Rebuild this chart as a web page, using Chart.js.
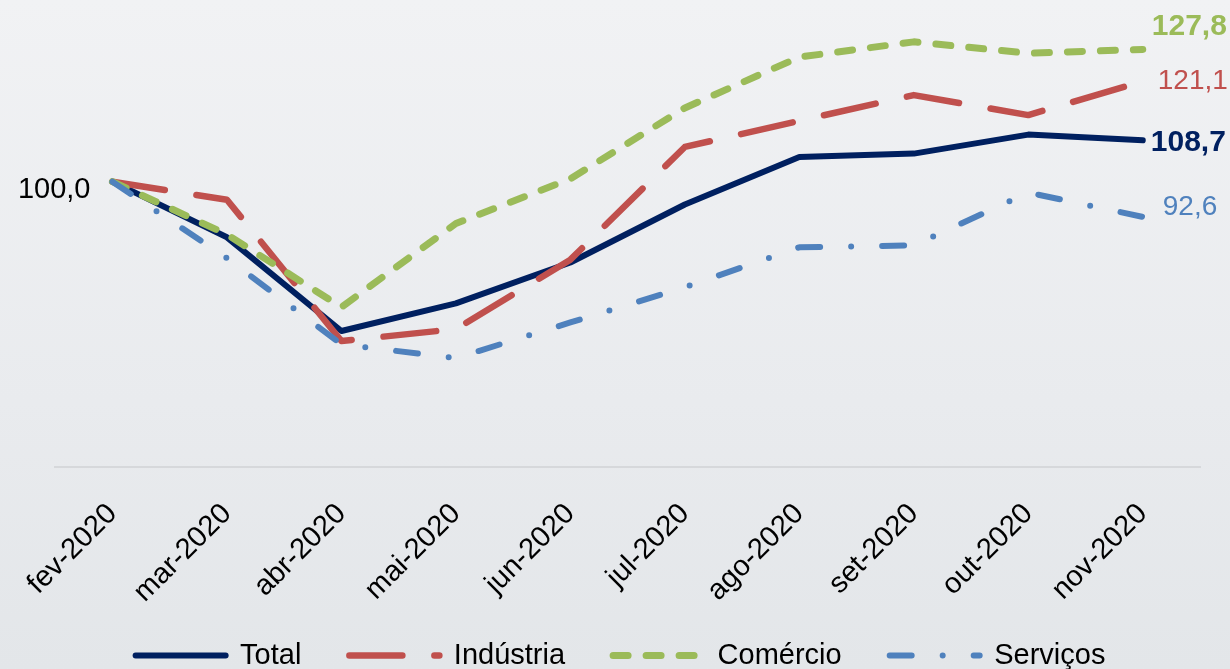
<!DOCTYPE html>
<html>
<head>
<meta charset="utf-8">
<script src="https://cdn.jsdelivr.net/npm/chart.js@4.4.0/dist/chart.umd.min.js"></script>
<style>
  html, body { margin: 0; padding: 0; overflow: hidden; }
  body { width: 1230px; height: 669px; background: linear-gradient(#f1f2f4, #e9ebee 60%, #e3e6e9); }
  #wrap { width: 1230px; height: 704px; }
</style>
</head>
<body>
<div id="wrap"><canvas id="chart" width="1230" height="704"></canvas></div>
<script>
// categories
const months = ['fev-2020', 'mar-2020', 'abr-2020', 'mai-2020', 'jun-2020',
    'jul-2020', 'ago-2020', 'set-2020', 'out-2020', 'nov-2020'];

// series (index, fev-2020 = 100)
const total     = [100, 88.3, 68.6, 74.4, 83.0, 95.2, 105.2, 105.9, 109.9, 108.7];
const industria = [100, 96.2, 66.5, 69.0, 83.6, 107.3, 112.8, 118.2, 114.0, 121.1];
const comercio  = [100, 88.9, 73.6, 91.2, 100.6, 115.5, 126.2, 129.4, 127.0, 127.8];
const servicos  = [100, 83.9, 65.8, 62.9, 70.4, 77.8, 86.2, 86.6, 97.7, 92.6];

const FONT = '"Liberation Sans", Arial, sans-serif';
const fmt = v => v.toFixed(1).replace('.', ',');

// end-of-line value labels (offsets from the last point)
const endStyle = [
    { dx: 8,  dy: 2,   font: 'bold 30px ' },
    { dx: 15, dy: 0,   font: '28px ' },
    { dx: 9,  dy: -23, font: 'bold 30px ' },
    { dx: 20, dy: -10, font: '28px ' }
];

const endLabels = {
    id: 'endLabels',
    afterDatasetsDraw(chart) {
        const ctx = chart.ctx;
        ctx.save();
        ctx.textBaseline = 'middle';
        chart.data.datasets.forEach((ds, i) => {
            const meta = chart.getDatasetMeta(i);
            const pt = meta.data[meta.data.length - 1];
            const st = endStyle[i];
            ctx.fillStyle = ds.borderColor;
            ctx.font = st.font + FONT;
            ctx.textAlign = 'left';
            ctx.fillText(fmt(ds.data[ds.data.length - 1]), pt.x + st.dx, pt.y + st.dy);
        });
        // base value label at the first point
        const first = chart.getDatasetMeta(0).data[0];
        ctx.fillStyle = '#000';
        ctx.font = '29px ' + FONT;
        ctx.textAlign = 'right';
        ctx.fillText(fmt(total[0]), first.x - 22, first.y + 8);
        ctx.restore();
    }
};

// pull the legend up a bit, so it sits closer to the axis labels
const legendShift = {
    id: 'legendShift',
    afterLayout(chart) {
        chart.legend.top -= 24;
        chart.legend.bottom -= 24;
        chart.legend.left -= 6;
        chart.legend.right -= 6;
    }
};

const chart = document.querySelector('#chart').getContext('2d');
new Chart(chart, {
    type: 'line',
    data: {
        labels: months,
        datasets: [
            { label: 'Total', data: total, borderColor: '#002060', backgroundColor: '#002060',
              borderWidth: 6, order: 3 },
            { label: 'Indústria', data: industria, borderColor: '#C0504D', backgroundColor: '#C0504D',
              borderWidth: 6.5, borderDash: [53, 32], order: 2 },
            { label: 'Comércio', data: comercio, borderColor: '#9BBB59', backgroundColor: '#9BBB59',
              borderWidth: 7, borderDash: [15, 18], order: 1 },
            { label: 'Serviços', data: servicos, borderColor: '#4F81BD', backgroundColor: '#4F81BD',
              borderWidth: 6, borderDash: [22, 31, 0, 31], order: 0 }
        ]
    },
    options: {
        responsive: false,
        animation: false,
        devicePixelRatio: 1,
        layout: { padding: { left: 53, right: 30, top: 39, bottom: 0 } },
        elements: {
            point: { radius: 0 },
            line: { tension: 0, borderCapStyle: 'round', borderJoinStyle: 'round', fill: false }
        },
        datasets: { line: { clip: false } },
        scales: {
            x: {
                offset: true,
                grid: { display: false, drawTicks: false },
                border: { display: true, color: '#d6d8db', width: 2 },
                ticks: {
                    color: '#000',
                    font: { family: FONT, size: 29 },
                    minRotation: 45, maxRotation: 45,
                    padding: 30
                },
                afterFit(scale) { scale.height = 150; }
            },
            y: {
                display: false,
                min: 40,
                max: 130
            }
        },
        plugins: {
            tooltip: { enabled: false },
            legend: {
                position: 'bottom',
                labels: {
                    usePointStyle: true,
                    pointStyle: 'line',
                    pointStyleWidth: 90,
                    padding: 48,
                    color: '#000',
                    font: { family: FONT, size: 29 },
                    generateLabels(chart) {
                        return chart.data.datasets.map((ds, i) => ({
                            text: ds.label,
                            datasetIndex: i,
                            fillStyle: ds.borderColor,
                            strokeStyle: ds.borderColor,
                            fontColor: '#000',
                            lineWidth: ds.borderWidth,
                            lineDash: ds.borderDash || [],
                            lineCap: 'round',
                            lineJoin: 'round',
                            pointStyle: 'line',
                            hidden: false
                        }));
                    }
                }
            }
        }
    },
    plugins: [endLabels, legendShift]
});
</script>
</body>
</html>
